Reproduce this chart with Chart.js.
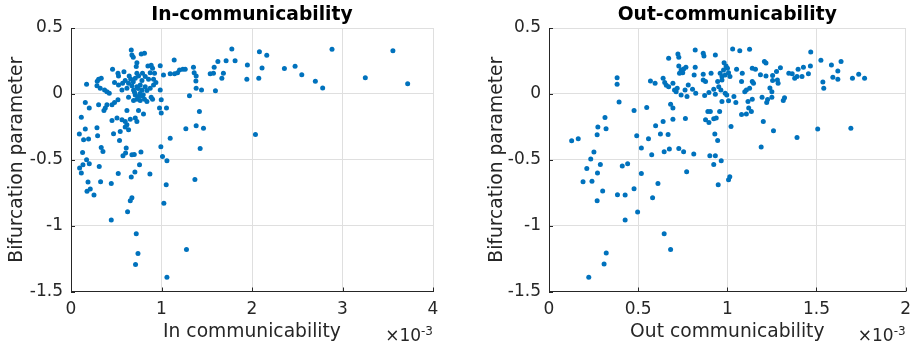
<!DOCTYPE html>
<html>
<head>
<meta charset="utf-8">
<script src="https://cdn.jsdelivr.net/npm/chart.js@4/dist/chart.umd.min.js"></script>
<style>
  html, body { margin: 0; padding: 0; background: #fff; }
  #wrap { position: relative; width: 919px; height: 347px; overflow: hidden; }
  .panel { position: absolute; top: 0; height: 347px; }
  #p1 { left: 0; width: 460px; }
  #p2 { left: 460px; width: 459px; }
</style>
</head>
<body>
<div id="wrap">
  <div class="panel" id="p1"><canvas id="c1" width="460" height="347"></canvas></div>
  <div class="panel" id="p2"><canvas id="c2" width="459" height="347"></canvas></div>
</div>
<script>
// In-communicability (values in units of 1e-3) vs bifurcation parameter
const inComm = [
  1.949,1.943,2.082,2.163,2.111,2.075,2.358,2.476,2.550,2.700,2.781,2.884,3.252,3.557,3.720,2.038,
  1.777,1.813,1.714,1.623,1.582,1.538,1.574,1.684,1.667,1.596,
  1.140,1.096,1.144,1.177,1.199,1.236,1.262,1.353,1.361,1.383,1.380,1.383,1.442,1.309,0.997,0.978,0.997,1.055,1.419,1.269,1.383,1.464,1.096,0.993,1.427,1.011,
  0.128,0.353,0.574,0.603,0.673,0.699,0.773,1.060,0.172,0.095,0.132,0.202,0.114,0.312,0.522,0.706,0.757,0.666,0.872,0.188,0.327,0.445,0.177,0.213,0.254,1.052,1.369,0.673,0.655,1.026,0.625,0.445,0.721,0.740,0.713,1.276,1.060,0.334,
  0.666,0.673,0.688,0.776,0.812,0.728,0.721,0.459,0.519,0.525,
  0.585,0.850,0.886,0.901,0.986,0.875,0.923,1.022,0.728,0.746,
  0.790,0.820,0.710,0.643,0.784,0.857,0.912,0.938,0.599,0.570,
  0.525,0.481,0.636,0.673,0.618,0.728,0.765,0.820,0.875,0.912,
  0.986,0.839,0.784,0.691,0.563,0.172,0.290,0.305,0.334,0.287,
  0.323,0.371,0.397,0.423,0.710,0.746,0.784,0.728,0.765,0.812,
  0.839,0.691,0.886,0.901,0.636,0.519,0.481,0.453,0.397,0.379,
  0.364,0.305,0.158,0.202,0.618,0.746,0.801,0.114,0.453,0.508,
  0.563,0.599,0.655,0.710,0.728,0.618,0.599,0.636,0.158,0.287,
  0.092,0.139,0.194,0.294,0.470,0.544,0.536,0.610,0.702,0.762,
  0.798,0.742,0.688,0.659
];
const inBif = [
  0.220,0.111,0.320,0.293,0.197,0.119,0.192,0.210,0.146,0.096,0.045,0.339,0.123,0.328,0.076,-0.308,
  0.341,0.252,0.252,0.245,0.202,0.152,0.157,0.157,0.119,0.023,
  0.258,0.152,0.152,0.161,0.182,0.187,0.187,0.202,0.161,0.136,0.098,0.043,0.030,-0.015,-0.045,-0.108,-0.146,-0.108,-0.134,-0.265,-0.242,-0.260,-0.336,-0.402,-0.414,-0.475,
  -0.445,-0.437,-0.470,-0.449,-0.462,-0.460,-0.442,-0.508,-0.500,-0.563,-0.538,-0.530,-0.601,-0.551,-0.604,-0.593,-0.538,-0.631,-0.608,-0.669,-0.667,-0.680,-0.740,-0.722,-0.767,-0.689,-0.649,-0.788,-0.811,-0.831,-0.895,-0.957,-1.061,-1.212,-1.295,-1.182,-1.392,-0.407,
  0.333,0.295,0.278,0.303,0.308,0.237,0.207,0.187,0.157,0.136,
  0.167,0.212,0.217,0.195,0.214,0.161,0.157,0.144,0.157,0.136,
  0.157,0.131,0.119,0.136,0.101,0.111,0.111,0.086,0.101,0.081,
  0.068,0.086,0.081,0.061,0.043,0.055,0.068,0.055,0.043,0.068,
  0.030,0.025,0.030,0.030,0.030,0.073,0.096,0.111,0.119,0.061,
  0.043,0.030,0.017,0.005,-0.008,-0.020,-0.015,-0.040,-0.051,-0.040,
  -0.058,-0.051,-0.025,-0.040,-0.025,-0.045,-0.066,-0.083,-0.083,-0.108,
  -0.127,-0.083,-0.066,-0.108,-0.127,-0.127,-0.152,-0.177,-0.202,-0.184,
  -0.197,-0.210,-0.192,-0.184,-0.210,-0.235,-0.252,-0.273,-0.267,-0.258,
  -0.305,-0.348,-0.343,-0.318,-0.303,-0.286,-0.354,-0.411,0.012,0.002,
  -0.006,0.040,0.092,0.112
];

// Out-communicability (values in units of 1e-3) vs bifurcation parameter
const outComm = [
  0.127,0.164,0.252,0.234,0.274,0.270,0.320,0.314,0.382,0.382,
  0.393,0.477,0.492,0.518,0.548,0.212,0.191,0.241,0.272,0.288,
  0.270,0.301,0.411,0.441,0.518,0.384,0.427,0.477,0.497,0.427,
  0.321,0.309,0.223,0.558,0.576,0.625,0.668,0.611,0.581,0.646,
  0.675,0.728,0.755,0.812,0.772,0.646,0.682,0.902,0.933,0.924,
  0.966,0.949,1.007,1.014,0.930,0.946,0.569,0.595,0.640,0.649,
  0.658,0.671,0.695,0.704,0.719,0.713,0.741,0.774,0.763,0.781,
  0.805,0.823,0.873,0.897,0.924,0.952,0.964,0.988,0.946,0.970,
  0.878,0.865,0.933,0.997,0.970,1.007,1.037,1.048,1.080,1.107,
  1.125,1.140,1.116,1.140,0.695,0.682,0.640,0.598,0.695,0.765,
  0.891,0.905,0.878,0.897,0.924,0.938,0.957,1.021,1.080,1.107,
  1.135,0.820,0.865,0.869,0.933,1.030,1.070,1.125,0.671,0.723,
  0.728,0.728,0.741,0.750,0.732,0.768,0.755,0.820,0.814,0.865,
  0.909,0.982,0.993,1.001,0.979,1.007,0.988,0.970,0.960,1.015,
  1.052,1.084,1.140,1.158,1.186,1.208,1.217,1.217,1.254,1.276,
  1.298,1.285,1.281,1.254,1.345,1.364,1.378,1.391,1.397,1.427,
  1.455,1.419,1.466,1.468,1.525,1.584,1.638,1.620,1.592,1.620,
  1.536,1.541,1.702,1.737,1.770,1.147,1.098,1.250,1.239,1.321,
  1.314,1.195,1.221,1.226,1.250,1.120,1.202,1.259,1.391,1.507,
  1.693,1.190
];
const outBif = [
  -0.356,-0.341,-0.442,-0.495,-0.252,-0.311,-0.265,-0.180,0.123,0.073,
  -0.061,-0.127,-0.318,-0.411,-0.104,-0.566,-0.667,-0.664,-0.601,-0.536,
  -0.811,-0.737,-0.548,-0.530,-0.604,-0.765,-0.767,-0.720,-0.896,-0.957,
  -1.208,-1.292,-1.392,-0.341,-0.462,-0.305,-0.308,-0.680,-0.788,-0.439,
  -0.419,-0.414,-0.439,-0.457,-0.591,-1.061,-1.182,-0.470,-0.470,-0.536,
  -0.508,-0.689,-0.652,-0.629,-0.305,-0.354,0.098,0.081,0.119,0.086,
  0.066,0.055,0.081,0.030,0.043,0.017,-0.008,-0.020,0.030,0.068,
  0.036,0.005,-0.013,0.010,0.036,0.055,0.030,0.005,0.093,0.106,
  0.093,0.106,-0.002,-0.008,-0.058,-0.053,-0.020,-0.066,0.093,0.030,
  0.043,0.093,-0.058,-0.040,-0.108,-0.078,-0.210,-0.242,-0.192,-0.187,
  -0.134,-0.134,-0.197,-0.217,-0.189,-0.184,-0.134,-0.248,-0.157,-0.152,
  -0.134,0.333,0.308,0.288,0.295,0.341,0.328,0.339,0.270,0.303,
  0.278,0.212,0.182,0.161,0.157,0.202,0.189,0.202,0.144,0.149,
  0.157,0.237,0.212,0.195,0.182,0.161,0.144,0.131,0.157,0.131,
  0.187,0.157,0.195,0.187,0.146,0.245,0.235,0.136,0.139,0.169,
  0.199,0.081,0.106,0.101,0.157,0.152,0.119,0.131,0.187,0.202,
  0.152,0.131,0.212,0.318,0.255,0.220,0.245,0.174,0.127,0.111,
  0.091,0.043,0.119,0.149,0.119,0.081,0.017,0.017,0.045,-0.030,
  -0.051,-0.025,-0.066,-0.042,-0.025,-0.108,-0.210,-0.280,-0.331,-0.267,
  -0.260,-0.404
];

const yTicks = [-1.5, -1, -0.5, 0, 0.5];
const inTicks = [0, 1, 2, 3, 4];
const outTicks = [0, 0.5, 1, 1.5, 2];
const exponentBase = '\u00d710';
const exponentPower = '-3';

const FONT = 'DejaVu Sans';
const TICK_SIZE = 17;
const LABEL_SIZE = 18.7;
const AXIS_COLOR = '#262626';
const GRID_COLOR = '#dfdfdf';
const DOT_COLOR = '#0072BD';

// Panel title centred over the plot area, inward tick marks, and the axis exponent label
const axisDecor = {
  id: 'axisDecor',
  afterDraw(chart, args, opts) {
    const { ctx, chartArea: a, scales: { x, y } } = chart;
    ctx.save();

    ctx.fillStyle = '#000';
    ctx.textAlign = 'center';
    ctx.textBaseline = 'middle';
    ctx.font = `bold ${LABEL_SIZE}px "${FONT}"`;
    ctx.fillText(opts.title, (a.left + a.right) / 2, 15.5);

    ctx.strokeStyle = AXIS_COLOR;
    ctx.lineWidth = 1;
    ctx.beginPath();
    x.ticks.forEach(t => {
      const px = Math.round(x.getPixelForValue(t.value)) + 0.5;
      ctx.moveTo(px, a.bottom);
      ctx.lineTo(px, a.bottom - 4);
    });
    y.ticks.forEach(t => {
      const py = Math.round(y.getPixelForValue(t.value)) + 0.5;
      ctx.moveTo(a.left, py);
      ctx.lineTo(a.left + 4, py);
    });
    ctx.stroke();

    ctx.fillStyle = AXIS_COLOR;
    ctx.textAlign = 'right';
    ctx.textBaseline = 'alphabetic';
    ctx.font = `12px "${FONT}"`;
    const supW = ctx.measureText(exponentPower).width;
    ctx.fillText(exponentPower, a.right, 335);
    ctx.font = `${TICK_SIZE}px "${FONT}"`;
    ctx.fillText(exponentBase, a.right - supW, 341);
    ctx.restore();
  }
};

function makeChart(canvasId, xs, ys, cfg) {
  const points = xs.map((v, i) => ({ x: v, y: ys[i] }));
  return new Chart(document.getElementById(canvasId), {
    type: 'scatter',
    data: {
      datasets: [{
        data: points,
        backgroundColor: DOT_COLOR,
        borderWidth: 0,
        pointRadius: 2.5,
        pointHoverRadius: 2.5
      }]
    },
    options: {
      responsive: false,
      animation: false,
      devicePixelRatio: 1,
      layout: { padding: { left: 0, right: cfg.padRight, top: 28, bottom: 0 } },
      plugins: {
        legend: { display: false },
        tooltip: { enabled: false },
        title: { display: false },
        axisDecor: { title: cfg.title }
      },
      scales: {
        x: {
          type: 'linear',
          min: cfg.xTicks[0],
          max: cfg.xTicks[cfg.xTicks.length - 1],
          afterBuildTicks: s => { s.ticks = cfg.xTicks.map(v => ({ value: v })); },
          afterFit: s => { s.height = 55.5; },
          grid: { color: GRID_COLOR, drawTicks: false },
          border: { color: AXIS_COLOR, width: 1 },
          ticks: {
            color: AXIS_COLOR,
            padding: 8,
            maxRotation: 0,
            autoSkip: false,
            font: { family: FONT, size: TICK_SIZE },
            callback: v => String(v)
          },
          title: {
            display: true,
            text: cfg.xTitle,
            color: AXIS_COLOR,
            font: { family: FONT, size: LABEL_SIZE },
            padding: { top: 0, bottom: 3.3 }
          }
        },
        y: {
          type: 'linear',
          min: yTicks[0],
          max: yTicks[yTicks.length - 1],
          afterBuildTicks: s => { s.ticks = yTicks.map(v => ({ value: v })); },
          afterFit: s => { s.width = cfg.yWidth; },
          grid: { color: GRID_COLOR, drawTicks: false },
          border: { color: AXIS_COLOR, width: 1 },
          ticks: {
            color: AXIS_COLOR,
            padding: 8,
            autoSkip: false,
            font: { family: FONT, size: TICK_SIZE },
            callback: v => String(v)
          },
          title: {
            display: true,
            text: 'Bifurcation parameter',
            color: AXIS_COLOR,
            font: { family: FONT, size: LABEL_SIZE },
            padding: { top: cfg.yTitlePad, bottom: 0 }
          }
        }
      }
    },
    plugins: [axisDecor]
  });
}

makeChart('c1', inComm, inBif, {
  title: 'In-communicability',
  xTitle: 'In communicability',
  xTicks: inTicks,
  yWidth: 71,
  padRight: 27,
  yTitlePad: 5.8
});

makeChart('c2', outComm, outBif, {
  title: 'Out-communicability',
  xTitle: 'Out communicability',
  xTicks: outTicks,
  yWidth: 89,
  padRight: 8,
  yTitlePad: 25.8
});
</script>
</body>
</html>
